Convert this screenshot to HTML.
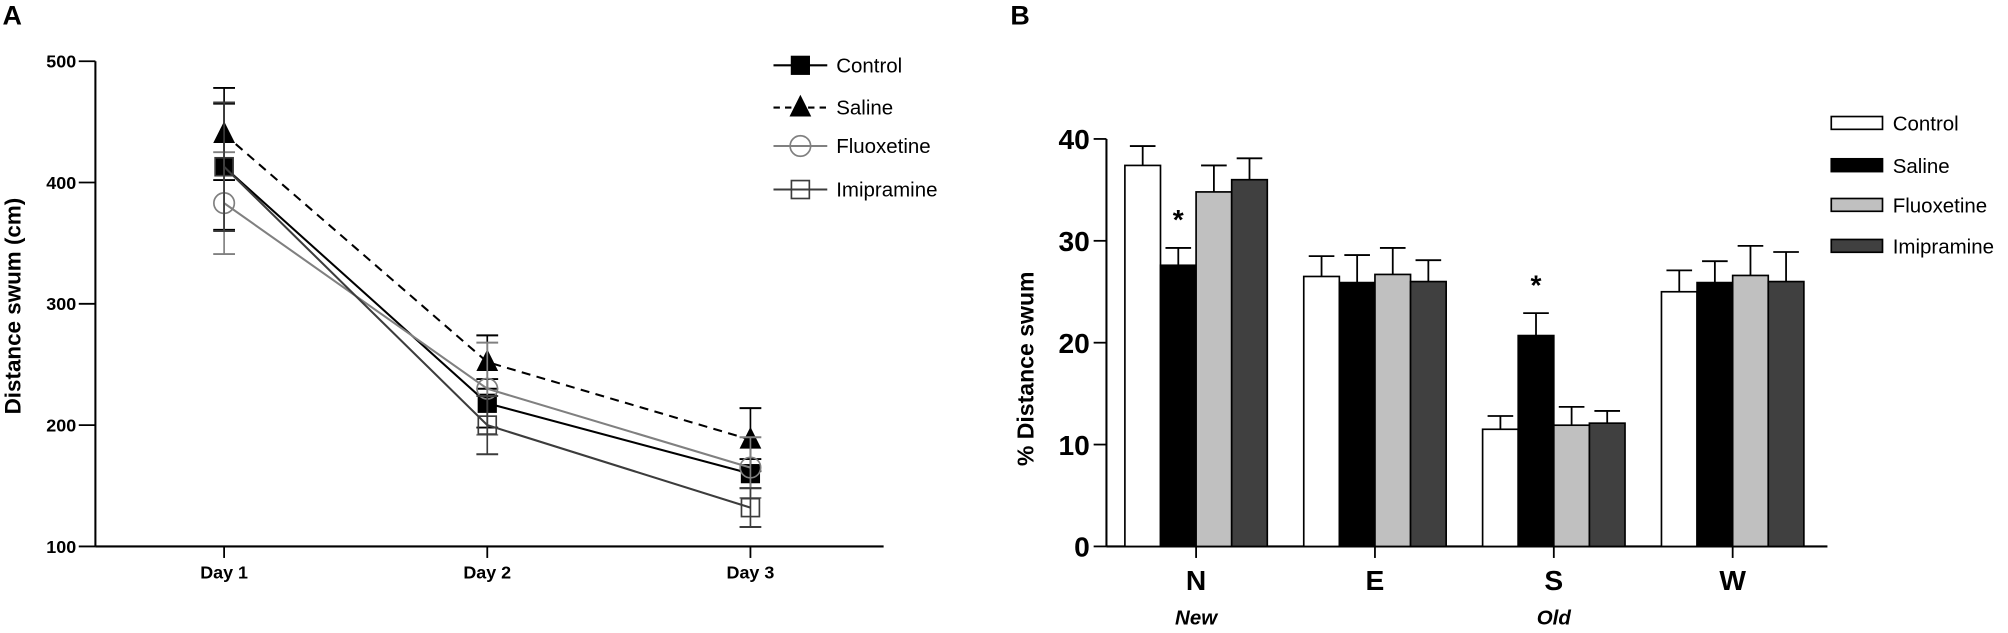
<!DOCTYPE html>
<html><head><meta charset="utf-8">
<style>
html,body{margin:0;padding:0;background:#fff;}
svg{display:block;}
text{font-family:"Liberation Sans",sans-serif;}
.nar{font-family:"Liberation Sans Narrow","Liberation Sans",sans-serif;}
</style></head>
<body>
<svg id="fig" width="2008" height="633" viewBox="0 0 1568 494.3" preserveAspectRatio="none" xmlns="http://www.w3.org/2000/svg">
<text x="2" y="19" font-size="21" font-weight="bold">A</text>
<text x="789" y="19" font-size="21" font-weight="bold">B</text>
<g id="pa"></g>
<g id="pb"></g>
</svg>
<script>
// ---- Panel A data ----
const daysA = ["Day 1","Day 2","Day 3"];
const ticksA = [100,200,300,400,500];
const seriesNamesA = ["Control","Saline","Fluoxetine","Imipramine"];
const controlA = [413,218,160];
const controlErrA = [52,20,12];
const salineA = [440,252,188];
const salineErrA = [38,22,26];
const fluoxA = [383,230,165];
const fluoxErrA = [42,38,25];
const imipA = [413,200,132];
const imipErrA = [53,24,16];
// ---- Panel B data ----
const dirsB = ["N","E","S","W"];
const subLabelsB = ["New","","Old",""];
const ticksB = [0,10,20,30,40];
const seriesNamesB = ["Control","Saline","Fluoxetine","Imipramine"];
const controlB = [37.4,26.5,11.5,25.0];
const controlErrB = [1.9,2.0,1.3,2.1];
const salineB = [27.6,25.9,20.7,25.9];
const salineErrB = [1.7,2.7,2.2,2.1];
const fluoxB = [34.8,26.7,11.9,26.6];
const fluoxErrB = [2.6,2.6,1.8,2.9];
const imipB = [36.0,26.0,12.1,26.0];
const imipErrB = [2.1,2.1,1.2,2.9];
const signifB = [1,0,1,0]; // asterisk over Saline bar

const NS="http://www.w3.org/2000/svg";
function mk(parent,tag,attrs,txt){const e=document.createElementNS(NS,tag);for(const k in attrs)e.setAttribute(k,attrs[k]);if(txt!==undefined)e.textContent=txt;parent.appendChild(e);return e;}

// ===== Panel A =====
const pa=document.getElementById('pa');
const ax0=74.5, ax1=690, ayTop=47.8, ayBot=426.7;
const yA=v=>ayBot-(v-100)/(500-100)*(ayBot-ayTop);
const dayX=[175,381,586];
const xA=i=>dayX[0]+i*(dayX[2]-dayX[0])/(daysA.length-1);
let e;
e=mk(pa,'line',{x1:ax0,y1:ayTop,x2:ax0,y2:ayBot,stroke:'#000','stroke-width':1.6});


e=mk(pa,'line',{x1:ax0,y1:ayBot,x2:ax1,y2:ayBot,stroke:'#000','stroke-width':1.6});


ticksA.forEach(t=>{
  mk(pa,'line',{x1:ax0-13,y1:yA(t),x2:ax0,y2:yA(t),stroke:'#000','stroke-width':1.4});
  e=mk(pa,'text',{x:ax0-15,y:yA(t)+5,'font-size':14,'font-weight':'bold','text-anchor':'end',class:'nar'},t);
  
  
});
daysA.forEach((d,i)=>{
  mk(pa,'line',{x1:xA(i),y1:ayBot,x2:xA(i),y2:ayBot+9,stroke:'#000','stroke-width':1.4});
  e=mk(pa,'text',{x:xA(i),y:ayBot+25,'font-size':14,'font-weight':'bold','text-anchor':'middle',class:'nar'},d);
  
  
});
e=mk(pa,'text',{x:0,y:0,'font-size':17.5,'font-weight':'bold','text-anchor':'middle',transform:'translate(16,239) rotate(-90)'},'Distance swum (cm)');



const styA=[
 {vals:controlA,err:controlErrA,col:'#000',dash:null,m:'fsq'},
 {vals:salineA,err:salineErrA,col:'#000',dash:'7,5',m:'tri'},
 {vals:fluoxA,err:fluoxErrA,col:'#808080',dash:null,m:'circ'},
 {vals:imipA,err:imipErrA,col:'#3c3c3c',dash:null,m:'osq'}];
function marker(g,type,cx,cy,col){
  if(type==='fsq') return mk(g,'rect',{x:cx-7.5,y:cy-7.5,width:15,height:15,fill:'#000'});
  if(type==='osq') return mk(g,'rect',{x:cx-7,y:cy-7,width:14,height:14,fill:'none',stroke:col,'stroke-width':1.3});
  if(type==='circ') return mk(g,'ellipse',{cx:cx,cy:cy,rx:8,ry:8,fill:'none',stroke:col,'stroke-width':1.3});
  return mk(g,'polygon',{points:`${cx},${cy-10} ${cx-8.5},${cy+7} ${cx+8.5},${cy+7}`,fill:'#000'});
}
styA.forEach((s,si)=>{
  const g=mk(pa,'g',{});
  
  
  const pts=s.vals.map((v,i)=>xA(i)+','+yA(v)).join(' ');
  const attrs={points:pts,fill:'none',stroke:s.col,'stroke-width':1.6};
  if(s.dash)attrs['stroke-dasharray']=s.dash;
  mk(g,'polyline',attrs);
  s.vals.forEach((v,i)=>{
    const x=xA(i),hi=yA(v+s.err[i]),lo=yA(v-s.err[i]);
    mk(g,'line',{x1:x,y1:hi,x2:x,y2:lo,stroke:s.col,'stroke-width':1.3});
    mk(g,'line',{x1:x-8.5,y1:hi,x2:x+8.5,y2:hi,stroke:s.col,'stroke-width':1.5});
    mk(g,'line',{x1:x-8.5,y1:lo,x2:x+8.5,y2:lo,stroke:s.col,'stroke-width':1.5});
    const m=marker(g,s.m,x,yA(v),s.col);
    
    
  });
});
const legYA=[51,84,114,148];
styA.forEach((s,si)=>{
  const g=mk(pa,'g',{});
  
  
  const y=legYA[si];
  const a={x1:604,y1:y,x2:646,y2:y,stroke:s.col,'stroke-width':1.6};
  if(s.dash)a['stroke-dasharray']='5,4';
  mk(g,'line',a);
  marker(g,s.m,625,y,s.col);
  mk(g,'text',{x:653,y:y+5.5,'font-size':16,class:'nar'},seriesNamesA[si]);
});

// ===== Panel B =====
const pb=document.getElementById('pb');
const bx0=864, bx1=1427, byTop=108.5, byBot=426.7;
const yB=v=>byBot-v/40*(byBot-byTop);
const grpX=[934,1073.5,1213,1353];
const xB=i=>grpX[0]+i*(grpX[3]-grpX[0])/(dirsB.length-1);
const bw=27.8;
e=mk(pb,'line',{x1:bx0,y1:byTop,x2:bx0,y2:byBot,stroke:'#000','stroke-width':1.6});


e=mk(pb,'line',{x1:bx0,y1:byBot,x2:bx1,y2:byBot,stroke:'#000','stroke-width':1.6});


ticksB.forEach(t=>{
  mk(pb,'line',{x1:bx0-10,y1:yB(t),x2:bx0,y2:yB(t),stroke:'#000','stroke-width':1.4});
  e=mk(pb,'text',{x:bx0-13,y:yB(t)+8,'font-size':22,'font-weight':'bold','text-anchor':'end',class:'nar'},t);
  
  
});
e=mk(pb,'text',{x:0,y:0,'font-size':18,'font-weight':'bold','text-anchor':'middle',transform:'translate(807,288) rotate(-90)'},'% Distance swum');


const styB=[
 {vals:controlB,err:controlErrB,fill:'#fff'},
 {vals:salineB,err:salineErrB,fill:'#000'},
 {vals:fluoxB,err:fluoxErrB,fill:'#c0c0c0'},
 {vals:imipB,err:imipErrB,fill:'#404040'}];
dirsB.forEach((d,gi)=>{
  const cx=xB(gi);
  mk(pb,'line',{x1:cx,y1:byBot,x2:cx,y2:byBot+9,stroke:'#000','stroke-width':1.4});
  e=mk(pb,'text',{x:cx,y:byBot+34,'font-size':22,'font-weight':'bold','text-anchor':'middle',class:'nar'},d);
  
  
  if(subLabelsB[gi]){
    e=mk(pb,'text',{x:cx,y:byBot+61,'font-size':16,'font-weight':'bold','font-style':'italic','text-anchor':'middle',class:'nar'},subLabelsB[gi]);
    
    
  }
  styB.forEach((s,si)=>{
    const x=cx-2*bw+si*bw, v=s.vals[gi], top=yB(v), et=yB(v+s.err[gi]), mx=x+bw/2;
    mk(pb,'line',{x1:mx,y1:et,x2:mx,y2:top,stroke:'#000','stroke-width':1.4});
    mk(pb,'line',{x1:mx-bw*0.36,y1:et,x2:mx+bw*0.36,y2:et,stroke:'#000','stroke-width':1.4});
    const r=mk(pb,'rect',{x:x,y:top,width:bw,height:byBot-top,fill:s.fill,stroke:'#000','stroke-width':1.3});
    
    
    if(si===1 && signifB[gi]){
      const st=mk(pb,'text',{x:mx,y:yB(v+s.err[gi]+3.1)+10,'font-size':22,'font-weight':'bold','text-anchor':'middle'},'*');
      
      
    }
  });
});
const legYB=[96,129,160,192];
styB.forEach((s,si)=>{
  const g=mk(pb,'g',{});
  
  
  const y=legYB[si];
  mk(g,'rect',{x:1430,y:y-5,width:40,height:10,fill:s.fill,stroke:'#000','stroke-width':1.3});
  mk(g,'text',{x:1478,y:y+6,'font-size':16,class:'nar'},seriesNamesB[si]);
});
</script>
</body></html>
